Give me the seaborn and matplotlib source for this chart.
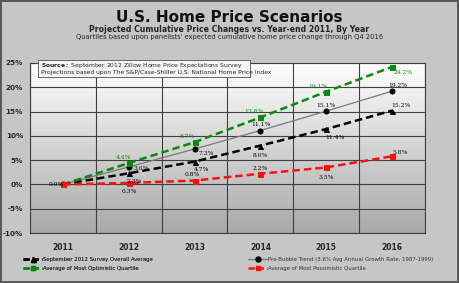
import numpy as np
import pandas as pd
import matplotlib
matplotlib.use("Agg")
import matplotlib.pyplot as plt
import seaborn as sns
from matplotlib.lines import Line2D

years = ["2011", "2012", "2013", "2014", "2015", "2016"]
avg_vals = [0.0, 2.3, 4.7, 8.0, 11.4, 15.2]
trend_vals = [0.0, 3.6, 7.3, 11.1, 15.1, 19.2]
opt_vals = [0.0, 4.4, 8.7, 13.8, 19.1, 24.2]
pess_vals = [0.0, 0.3, 0.8, 2.2, 3.5, 5.8]

yticks = [-10, -5, 0, 5, 10, 15, 20, 25]

avg_name = "September 2012 Survey Overall Average"
trend_name = "Pre-Bubble Trend (3.6% Avg Annual Growth Rate, 1987-1999)"
opt_name = "Average of Most Optimistic Quartile"
pess_name = "Average of Most Pessimistic Quartile"

sns.set_style("white")
plt.rcParams["font.family"] = ["DejaVu Sans"]

fig = plt.figure(figsize=(4.59, 2.83), dpi=100)
fig.patch.set_facecolor("#c6c6c6")
fig.patch.set_edgecolor("#5a5a5a")
fig.patch.set_linewidth(1.5)

ax = fig.add_axes([30 / 459, 50 / 283, 395 / 459, 170 / 283])
x = np.arange(len(years))

# gradient plot background
grad = np.linspace(0, 1, 256).reshape(-1, 1)
ax.imshow(grad, extent=[-0.5, 5.5, -10, 25], aspect="auto", origin="upper",
          cmap=matplotlib.colors.LinearSegmentedColormap.from_list("g", ["#ffffff", "#a9a9a9"]),
          zorder=0)

for b in np.arange(-0.5, 5.6, 1):
    ax.axvline(b, color="#404040", lw=0.8, zorder=1)
for t in yticks:
    ax.axhline(t, color="#404040", lw=0.8, zorder=1)

sns.lineplot(x=x, y=trend_vals, ax=ax, color="#7a7a7a", lw=0.9, marker="o",
             markersize=3.6, markerfacecolor="black", markeredgecolor="black", zorder=3)
sns.lineplot(x=x, y=avg_vals, ax=ax, color="black", lw=1.8, linestyle=(0, (3, 1.6)),
             marker="^", markersize=3.6, markeredgecolor="black", zorder=4)
sns.lineplot(x=x, y=opt_vals, ax=ax, color="#0a8a0a", lw=1.8, linestyle=(0, (3, 1.6)),
             marker="s", markersize=3.6, markeredgecolor="#0a8a0a", zorder=4)
sns.lineplot(x=x, y=pess_vals, ax=ax, color="#ff1010", lw=1.8, linestyle=(0, (3, 1.6)),
             marker="s", markersize=3.6, markeredgecolor="#ff1010", zorder=4)

lab_kw = dict(fontsize=4.3, family="DejaVu Serif", textcoords="offset points", zorder=6)
opt_off = [None, (-4, 4), (-5, 4), (-5, 4), (-6, 4), (8, -4)]
trend_off = [None, (9, -1), (8, -3), (0, 4), (0, 4), (4, 4)]
avg_off = [None, (4, -6), (5, -6), (0, -7), (6, -6), (6, 4)]
pess_off = [None, (0, -6), (-2, 4), (0, 4), (0, -7), (6, 3)]
for i in range(1, len(years)):
    ax.annotate(f"{opt_vals[i]:.1f}%", (x[i], opt_vals[i]), xytext=opt_off[i],
                ha="center", va="center", color="#0a8a0a", **lab_kw)
    ax.annotate(f"{trend_vals[i]:.1f}%", (x[i], trend_vals[i]), xytext=trend_off[i],
                ha="center", va="center", color="black", **lab_kw)
    ax.annotate(f"{avg_vals[i]:.1f}%", (x[i], avg_vals[i]), xytext=avg_off[i],
                ha="center", va="center", color="black", **lab_kw)
    ax.annotate(f"{pess_vals[i]:.1f}%", (x[i], pess_vals[i]), xytext=pess_off[i],
                ha="center", va="center", color="black", **lab_kw)
ax.annotate("0.0%", (x[0], 0), xytext=(-5, 0), ha="center", va="center",
            color="black", **lab_kw)

ax.set_xlim(-0.5, 5.5)
ax.set_ylim(-10, 25)
ax.set_xticks(x)
ax.set_xticklabels(years, fontsize=5.5, fontweight="bold")
ax.set_yticks(yticks)
ax.set_yticklabels([f"{t}%" for t in yticks], fontsize=5.2, fontweight="bold")
ax.tick_params(axis="both", length=0, pad=5)
ax.tick_params(axis="x", pad=7)
for s in ax.spines.values():
    s.set_color("#404040")
    s.set_linewidth(0.8)

fig.text(0.5, 1 - 17 / 283, "U.S. Home Price Scenarios", ha="center", va="center",
         fontsize=11, fontweight="bold", color="#111111")
fig.text(0.5, 1 - 29 / 283, "Projected Cumulative Price Changes vs. Year-end 2011, By Year",
         ha="center", va="center", fontsize=5.6, fontweight="bold", color="#222222")
fig.text(0.5, 1 - 36.5 / 283,
         "Quartiles based upon panelists' expected cumulative home price change through Q4 2016",
         ha="center", va="center", fontsize=4.9, color="#222222")

# source box
src = fig.add_axes([38 / 459, 1 - 77 / 283, 212 / 459, 17 / 283])
src.set_xticks([])
src.set_yticks([])
src.set_facecolor("#f4f4f4")
for s in src.spines.values():
    s.set_color("#666666")
    s.set_linewidth(0.7)
src.text(0.015, 0.7, r"$\bf{Source:}$ September 2012 Zillow Home Price Expectations Survey",
         fontsize=4.3, va="center", transform=src.transAxes)
src.text(0.015, 0.27, "Projections based upon The S&P/Case-Shiller U.S. National Home Price Index",
         fontsize=4.3, va="center", transform=src.transAxes)

dash = (0, (2.5, 1.2))
left_handles = [
    Line2D([], [], color="black", lw=1.8, linestyle=dash, marker="^", markersize=3.6),
    Line2D([], [], color="#0a8a0a", lw=1.8, linestyle=dash, marker="s", markersize=3.2),
]
right_handles = [
    Line2D([], [], color="#7a7a7a", lw=1.0, marker="o", markersize=3.6,
           markerfacecolor="black", markeredgecolor="black"),
    Line2D([], [], color="#ff1010", lw=1.8, linestyle=dash, marker="s", markersize=3.2),
]
leg_kw = dict(frameon=False, fontsize=3.9, handlelength=3.6, handletextpad=0.2,
              labelspacing=0.6, labelcolor="#333333", loc="center left")
leg1 = fig.legend(left_handles, [avg_name, opt_name],
                  bbox_to_anchor=(18 / 459, 1 - 264 / 283), **leg_kw)
fig.add_artist(leg1)
fig.legend(right_handles, [trend_name, pess_name],
           bbox_to_anchor=(243 / 459, 1 - 264 / 283), **leg_kw)

fig.savefig("out.png", dpi=100, facecolor=fig.get_facecolor(), edgecolor=fig.get_edgecolor())
